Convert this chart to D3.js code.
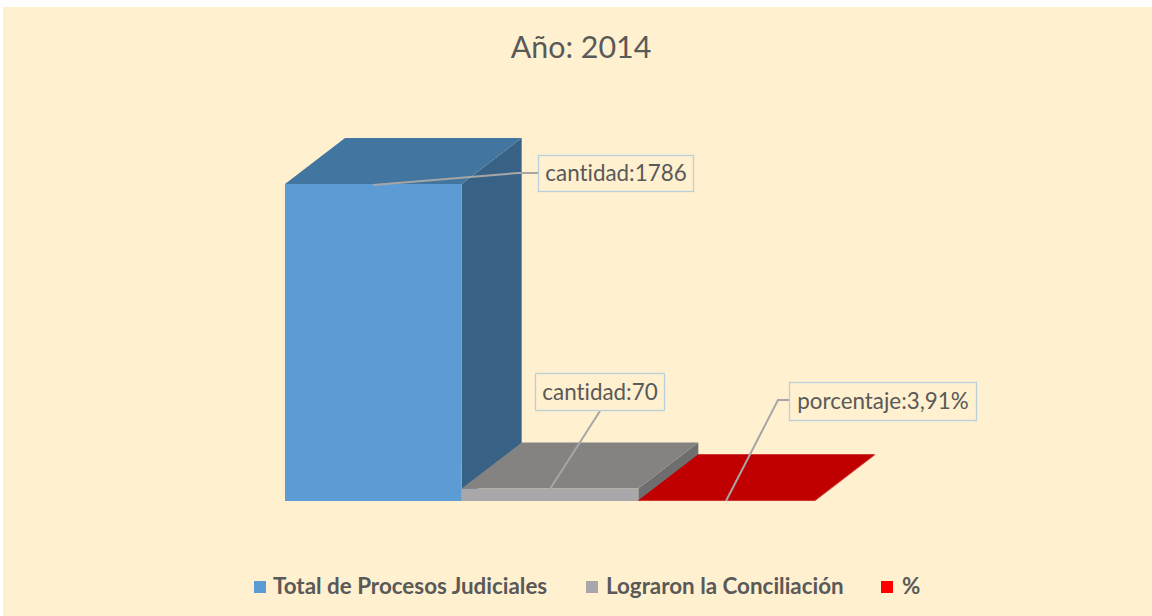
<!DOCTYPE html>
<html><head><meta charset="utf-8">
<script src="https://cdn.jsdelivr.net/npm/d3@7/dist/d3.min.js"></script>
<style>html,body{margin:0;padding:0;background:#fff;overflow:hidden}svg{display:block}text{font-family:Lato,"Open Sans",sans-serif;font-variant-ligatures:none}</style>
</head><body><svg id="c" width="1152" height="616"></svg>
<script>
const seriesNames = ["Total de Procesos Judiciales","Lograron la Conciliación","%"];
const values = [1786,70,3.91];
const labelTexts = ["cantidad:1786","cantidad:70","porcentaje:3,91%"];
const frontColors = ["#5d9bd5","#aaa7ab","#c00000"];
const topColors = ["#4375a1","#858382","#c00000"];
const sideColors = ["#386285","#6e6e6e","#c00000"];
const legendColors = ["#5b9bd5","#a9a7ad","#ff0000"];
const title = "Año: 2014";

const svg = d3.select("#c");
svg.append("rect").attr("x",3).attr("y",7).attr("width",1149).attr("height",609).attr("fill","#fff0cf");
svg.append("text").attr("x",581).attr("y",58).attr("text-anchor","middle").attr("font-size",30.4).attr("fill","#595959").text(title);

const x = d3.scaleBand().domain(d3.range(values.length)).range([285,815]).padding(0);
const y = d3.scaleLinear().domain([0,1786]).range([501,184]);
const dx = 60, dy = -46;
const poly = pts => pts.map(p=>p.join(",")).join(" ");

// left to right: each bar's top overlaps the side of the bar before it
d3.range(values.length).forEach(i=>{
  const x0=x(i), x1=x0+x.bandwidth(), yT=y(values[i]), yB=y(0);
  const g=svg.append("g");
  g.append("polygon").attr("points",poly([[x1,yT],[x1+dx,yT+dy],[x1+dx,yB+dy],[x1,yB]])).attr("fill",sideColors[i]);
  g.append("polygon").attr("points",poly([[x0,yT],[x0+dx,yT+dy],[x1+dx,yT+dy],[x1,yT]])).attr("fill",topColors[i]);
  g.append("rect").attr("x",x0).attr("y",yT).attr("width",x.bandwidth()).attr("height",Math.max(yB-yT,0.7)).attr("fill",frontColors[i]);
});

// leader lines and boxed data labels
const leaders = [
  [[373,185],[518,173],[538,173]],
  [[550,489],[600,411]],
  [[726,501],[778,400],[789,400]]
];
const boxes = [[538.5,155.5,155,36],[535.5,373.5,129,37],[789.5,382.5,187,38]];
leaders.forEach(l=>svg.append("polyline").attr("points",poly(l)).attr("fill","none").attr("stroke","#a6a6a6").attr("stroke-width",2));
labelTexts.forEach((t,i)=>{
  const b=boxes[i];
  svg.append("rect").attr("x",b[0]).attr("y",b[1]).attr("width",b[2]).attr("height",b[3]).attr("fill","#fff0cf").attr("stroke","#bccfdc").attr("stroke-width",1.3);
  svg.append("text").attr("x",b[0]+b[2]/2).attr("y",b[1]+b[3]/2+7.5).attr("text-anchor","middle").attr("font-size",22.4).attr("fill","#595959").text(t);
});

// legend
const legendX=[254,586,881], legendTextX=[273,606,902];
seriesNames.forEach((n,i)=>{
  svg.append("rect").attr("x",legendX[i]).attr("y",581).attr("width",12).attr("height",12).attr("fill",legendColors[i]);
  svg.append("text").attr("x",legendTextX[i]).attr("y",594).attr("font-size",22.4).attr("font-weight",700).attr("fill","#595959").text(n);
});
</script></body></html>
